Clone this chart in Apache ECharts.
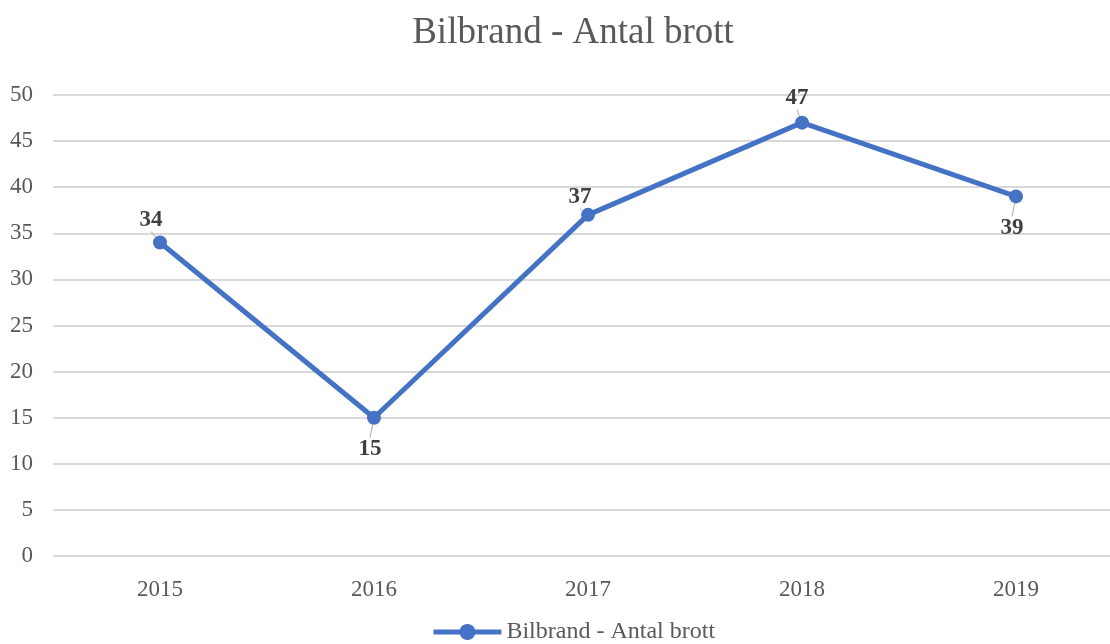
<!DOCTYPE html>
<html>
<head>
<meta charset="utf-8">
<title>Bilbrand - Antal brott</title>
<script src="https://cdn.jsdelivr.net/npm/echarts@6/dist/echarts.min.js"></script>
<style>
html, body { margin: 0; padding: 0; background: #fff; overflow: hidden; }
#chart { width: 1146px; height: 644px; }
</style>
</head>
<body>
<div id="chart"></div>
<script>
var years = ['2015', '2016', '2017', '2018', '2019'];
var values = [34, 15, 37, 47, 39];
var seriesName = 'Bilbrand - Antal brott';

// label placement per point (below for 2016 and 2019)
var labelPos = ['top', 'bottom', 'top', 'top', 'bottom'];
var labelShift = [[-9, 1], [-4, 8], [-8, 6], [-5, -1], [-4, 8]];

var font = '"Liberation Serif", "Times New Roman", serif';
var myChart = echarts.init(document.getElementById('chart'));
var option = {
    animation: false,
    title: {
        text: seriesName,
        left: 'center',
        top: 10,
        textStyle: { fontFamily: font, fontSize: 37, fontWeight: 'normal', color: '#595959' }
    },
    legend: {
        bottom: -5,
        left: 'center',
        itemWidth: 68,
        itemHeight: 20,
        lineStyle: { width: 5 },
        textStyle: { fontFamily: font, fontSize: 24, color: '#595959' },
        data: [seriesName]
    },
    grid: { left: 53, top: 95, right: 23, bottom: 88, containLabel: false },
    xAxis: {
        type: 'category',
        data: years,
        boundaryGap: true,
        axisLine: { show: false },
        axisTick: { show: false },
        axisLabel: { fontFamily: font, fontSize: 23, color: '#595959', margin: 22 }
    },
    yAxis: {
        type: 'value',
        min: 0,
        max: 50,
        interval: 5,
        axisLine: { show: false },
        axisTick: { show: false },
        splitLine: { lineStyle: { color: '#d9d9d9', width: 2 } },
        axisLabel: { fontFamily: font, fontSize: 23, color: '#595959', margin: 20 }
    },
    series: [{
        name: seriesName,
        type: 'line',
        data: values.map(function (v, i) {
            return { value: v, label: { position: labelPos[i] } };
        }),
        symbol: 'circle',
        symbolSize: 14,
        itemStyle: { color: '#4472C4' },
        lineStyle: { color: '#4472C4', width: 5 },
        label: {
            show: true,
            distance: 5,
            fontFamily: font,
            fontSize: 23,
            fontWeight: 'bold',
            color: '#404040'
        },
        labelLine: { show: true, lineStyle: { color: '#a6a6a6', width: 1 } },
        labelLayout: function (p) {
            var s = labelShift[p.dataIndex];
            return { dx: s[0], dy: s[1] };
        }
    }]
};
myChart.setOption(option);
</script>
</body>
</html>
